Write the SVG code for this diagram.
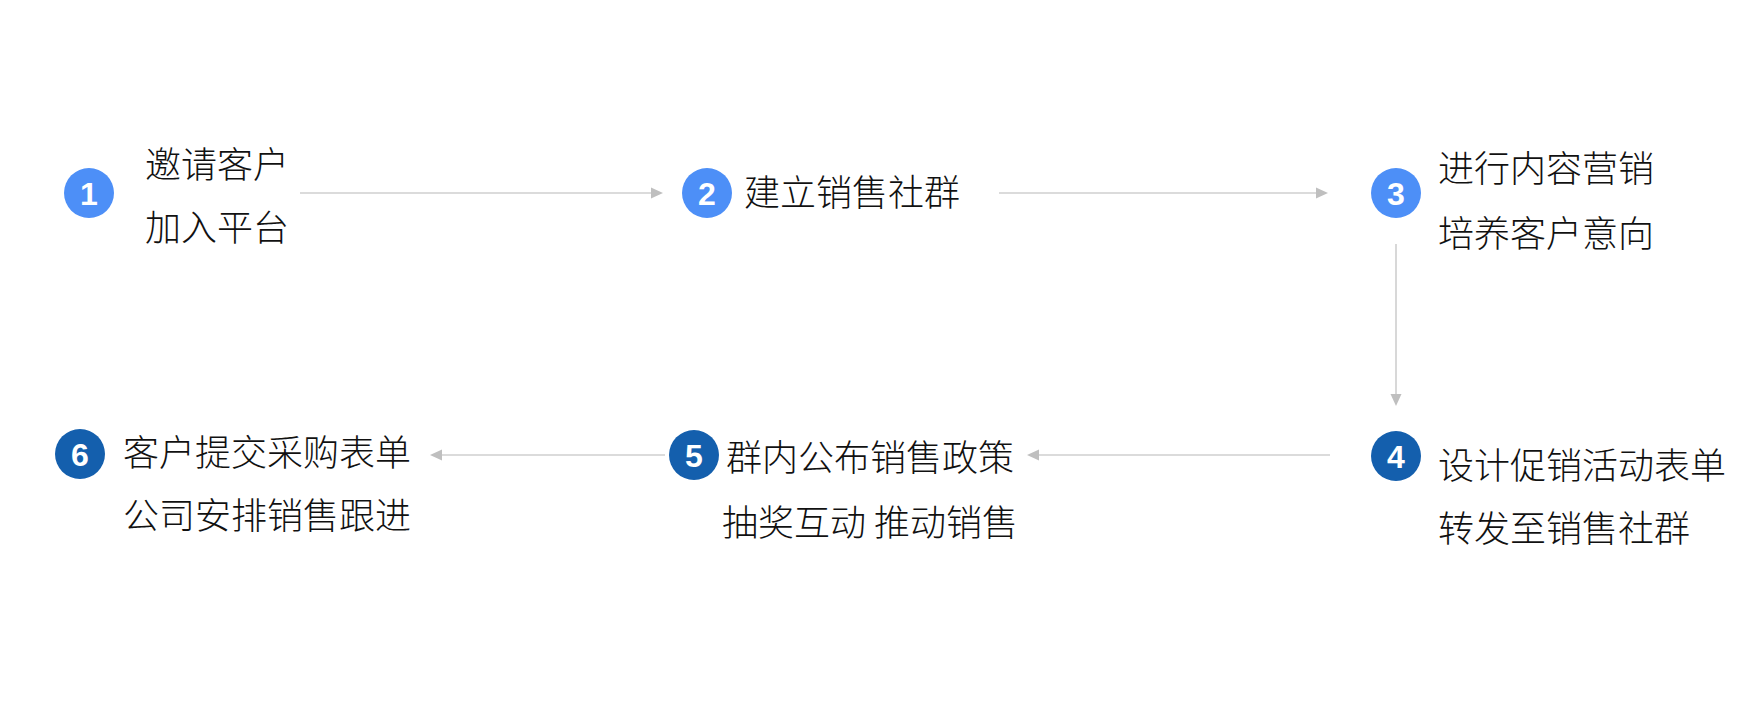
<svg xmlns="http://www.w3.org/2000/svg" width="1763" height="711" viewBox="0 0 1763 711">
<style>
.bg{fill:#ffffff}
.c1{fill:#4d8ff7}
.c2{fill:#145fad}
.num{fill:#ffffff;font-family:"Liberation Sans",Arial,sans-serif;font-weight:bold;font-size:32px;text-anchor:middle}
.lbl{fill:#111111;font-family:"Noto Sans CJK SC","Noto Sans",sans-serif;font-weight:300;font-size:36px}
.mid{text-anchor:middle}
.conn{stroke:#cfcfcf;stroke-width:1.6;fill:none}
.head{fill:#bfbfbf}
</style>
<rect class="bg" x="0" y="0" width="1763" height="711"/>
<g id="connectors">
<line class="conn" x1="300" y1="193" x2="653" y2="193"/>
<path class="head" d="M663,193 L651,187.5 L651,198.5 Z"/>
<line class="conn" x1="999" y1="193" x2="1318" y2="193"/>
<path class="head" d="M1328,193 L1316,187.5 L1316,198.5 Z"/>
<line class="conn" x1="1396" y1="244" x2="1396" y2="396"/>
<path class="head" d="M1396,406 L1390.5,394 L1401.5,394 Z"/>
<line class="conn" x1="1330" y1="455" x2="1037" y2="455"/>
<path class="head" d="M1027,455 L1039,449.5 L1039,460.5 Z"/>
<line class="conn" x1="665" y1="455" x2="440" y2="455"/>
<path class="head" d="M430,455 L442,449.5 L442,460.5 Z"/>
</g>
<g id="node1">
<circle class="c1" cx="89" cy="193" r="25"/>
<text class="num" x="89" y="204.5">1</text>
<text class="lbl" x="145" y="178">邀请客户</text>
<text class="lbl" x="145" y="241">加入平台</text>
</g>
<g id="node2">
<circle class="c1" cx="707" cy="193" r="25"/>
<text class="num" x="707" y="204.5">2</text>
<text class="lbl" x="744" y="206">建立销售社群</text>
</g>
<g id="node3">
<circle class="c1" cx="1396" cy="193" r="25"/>
<text class="num" x="1396" y="204.5">3</text>
<text class="lbl" x="1438" y="182">进行内容营销</text>
<text class="lbl" x="1438" y="247">培养客户意向</text>
</g>
<g id="node4">
<circle class="c2" cx="1396" cy="456" r="25"/>
<text class="num" x="1396" y="467.5">4</text>
<text class="lbl" x="1438" y="479">设计促销活动表单</text>
<text class="lbl" x="1438" y="542">转发至销售社群</text>
</g>
<g id="node5">
<circle class="c2" cx="694" cy="455" r="25"/>
<text class="num" x="694" y="466.5">5</text>
<text class="lbl mid" x="870" y="471">群内公布销售政策</text>
<text class="lbl mid" x="870" y="536">抽奖互动 推动销售</text>
</g>
<g id="node6">
<circle class="c2" cx="80" cy="454" r="25"/>
<text class="num" x="80" y="465.5">6</text>
<text class="lbl" x="123" y="466">客户提交采购表单</text>
<text class="lbl" x="123" y="529">公司安排销售跟进</text>
</g>
</svg>
